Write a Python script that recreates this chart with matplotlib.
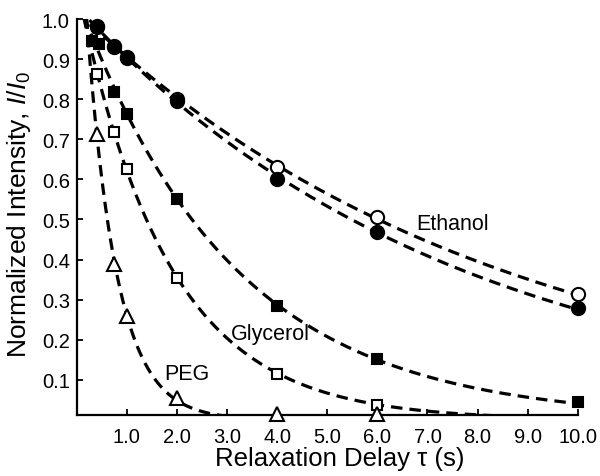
import numpy as np
import matplotlib
matplotlib.use("Agg")
import matplotlib.pyplot as plt

plt.rcParams['font.family'] = ['Liberation Sans', 'DejaVu Sans']
plt.rcParams['mathtext.fontset'] = 'custom'
plt.rcParams['mathtext.rm'] = 'Liberation Sans'
plt.rcParams['mathtext.it'] = 'Liberation Sans:italic'

# ---- data ----
eth_open_t = [0.4, 0.75, 1.0, 2.0, 4.0, 6.0, 10.0]
eth_open_y = [0.98, 0.93, 0.905, 0.80, 0.63, 0.505, 0.314]
eth_fill_t = [0.4, 0.75, 1.0, 2.0, 4.0, 6.0, 10.0]
eth_fill_y = [0.982, 0.932, 0.902, 0.795, 0.60, 0.469, 0.279]
gly_fill_t = [0.3, 0.45, 0.75, 1.0, 2.0, 4.0, 6.0, 10.0]
gly_fill_y = [0.945, 0.937, 0.817, 0.763, 0.551, 0.285, 0.152, 0.045]
gly_open_t = [0.4, 0.75, 1.0, 2.0, 4.0, 6.0]
gly_open_y = [0.863, 0.717, 0.626, 0.353, 0.115, 0.036]
peg_t = [0.4, 0.75, 1.0, 2.0, 4.0, 6.0]
peg_y = [0.713, 0.389, 0.26, 0.055, 0.015, 0.015]

xticks = [1.0, 2.0, 3.0, 4.0, 5.0, 6.0, 7.0, 8.0, 9.0, 10.0]
yticks = [0.1, 0.2, 0.3, 0.4, 0.5, 0.6, 0.7, 0.8, 0.9, 1.0]


def fit_exp(t, y):
    t = np.asarray(t, float); y = np.asarray(y, float)
    best = None
    for T in np.linspace(0.2, 20, 4000):
        e = np.exp(-t / T)
        A = np.sum(y * e) / np.sum(e * e)
        err = np.sum((y - A * e) ** 2)
        if best is None or err < best[0]:
            best = (err, A, T)
    return best[1], best[2]


fig = plt.figure(figsize=(6.0, 4.77), dpi=100)
ax = fig.add_axes([0.128, 0.1285, 0.835, 0.8295])

dash = (0, (3.6, 2.2))
tt = np.linspace(0.0, 10.0, 600)
for t, y in [(eth_open_t, eth_open_y), (eth_fill_t, eth_fill_y),
             (gly_fill_t, gly_fill_y), (gly_open_t, gly_open_y),
             (peg_t, peg_y)]:
    A, T = fit_exp(t, y)
    ax.plot(tt, A * np.exp(-tt / T), color='black', lw=2.3, ls=dash, zorder=2)

mk = dict(ls='none', clip_on=False, zorder=3, markeredgecolor='black', markeredgewidth=1.5)
ax.plot(eth_open_t, eth_open_y, marker='o', ms=9.5, markerfacecolor='white', **mk)
ax.plot(eth_fill_t, eth_fill_y, marker='o', ms=9.5, markerfacecolor='black', **mk)
ax.plot(gly_fill_t, gly_fill_y, marker='s', ms=7.5, markerfacecolor='black', **mk)
ax.plot(gly_open_t, gly_open_y, marker='s', ms=7.5, markerfacecolor='white', **mk)
ax.plot(peg_t, peg_y, marker='^', ms=10, markerfacecolor='white', **mk)

ax.text(6.77, 0.49, 'Ethanol', fontsize=15.5, va='center', ha='left')
ax.text(3.07, 0.215, 'Glycerol', fontsize=15.5, va='center', ha='left')
ax.text(1.75, 0.117, 'PEG', fontsize=15.5, va='center', ha='left')

ax.set_xlim(0, 10.0)
ax.set_ylim(0.013, 1.0)
ax.set_xticks(xticks)
ax.set_xticklabels([f'{v:.1f}' for v in xticks])
ax.set_yticks(yticks)
ax.set_yticklabels([f'{v:.1f}' for v in yticks])
ax.tick_params(direction='in', length=4, width=1.3, labelsize=14.5, pad=9)
ax.tick_params(axis='y', pad=5)
for s in ['top', 'right']:
    ax.spines[s].set_visible(False)
for s in ['left', 'bottom']:
    ax.spines[s].set_linewidth(1.6)

ax.set_xlabel('Relaxation Delay τ (s)', fontsize=18.5)
ax.xaxis.set_label_coords(0.524, -0.078)
ax.set_ylabel(r'Normalized Intensity, $I/I_0$', fontsize=19)
ax.yaxis.set_label_coords(-0.087, 0.51)

fig.savefig('out.png', dpi=100)
